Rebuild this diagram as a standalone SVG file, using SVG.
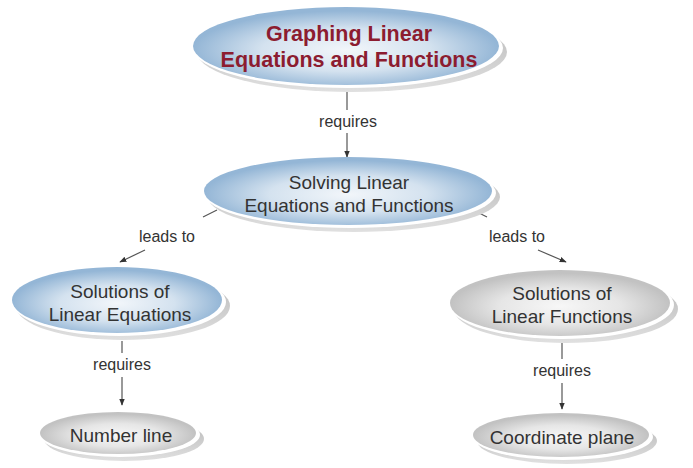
<svg xmlns="http://www.w3.org/2000/svg" width="693" height="468" viewBox="0 0 693 468">
<defs>
<radialGradient id="gBlue" cx="0.5" cy="0.55" r="0.5">
<stop offset="0" stop-color="#f2f6fa"/>
<stop offset="0.55" stop-color="#d4e2ef"/>
<stop offset="1" stop-color="#94b6d6"/>
</radialGradient>
<radialGradient id="gGray" cx="0.5" cy="0.55" r="0.5">
<stop offset="0" stop-color="#f7f7f7"/>
<stop offset="0.55" stop-color="#e6e6e6"/>
<stop offset="1" stop-color="#c2c2c2"/>
</radialGradient>
<linearGradient id="gShadow" x1="0" y1="0" x2="0" y2="1">
<stop offset="0" stop-color="#b5b5b5"/>
<stop offset="1" stop-color="#e0e0e0"/>
</linearGradient>
<marker id="arr" viewBox="0 0 10 10" refX="9" refY="5" markerWidth="7" markerHeight="7" orient="auto" markerUnits="userSpaceOnUse">
<path d="M0,1 L10,5 L0,9 z" fill="#333"/>
</marker>
</defs>
<style>
.sh{fill:url(#gShadow);}
.rim{fill:#fff;}
.blue{fill:url(#gBlue);}
.gray{fill:url(#gGray);}
.t{font-family:"Liberation Sans",Arial,sans-serif;fill:#333;text-anchor:middle;font-size:19px;}
.title{font-family:"Liberation Sans",Arial,sans-serif;font-weight:bold;fill:#8c1c30;text-anchor:middle;font-size:21.5px;}
.lbl{font-family:"Liberation Sans",Arial,sans-serif;fill:#333;text-anchor:middle;font-size:16px;}
.ln{stroke:#555;stroke-width:1.2;fill:none;}
</style>
<rect width="693" height="468" fill="#fff"/>
<g id="connectors">
<line class="ln" x1="347" y1="92" x2="347" y2="110"/>
<text class="lbl" x="348" y="127">requires</text>
<line class="ln" x1="347" y1="133" x2="347" y2="157" marker-end="url(#arr)"/>
<line class="ln" x1="217" y1="210" x2="203" y2="217"/>
<text class="lbl" x="167" y="242">leads to</text>
<line class="ln" x1="145" y1="250" x2="120" y2="262" marker-end="url(#arr)"/>
<line class="ln" x1="473" y1="210" x2="487" y2="217"/>
<text class="lbl" x="517" y="242">leads to</text>
<line class="ln" x1="538" y1="250" x2="566" y2="262" marker-end="url(#arr)"/>
<line class="ln" x1="122" y1="341" x2="122" y2="353"/>
<text class="lbl" x="122" y="370">requires</text>
<line class="ln" x1="122" y1="377" x2="122" y2="405" marker-end="url(#arr)"/>
<line class="ln" x1="562" y1="343" x2="562" y2="359"/>
<text class="lbl" x="562" y="376">requires</text>
<line class="ln" x1="562" y1="383" x2="562" y2="409" marker-end="url(#arr)"/>
</g>
<g id="n1">
<ellipse class="sh" cx="352" cy="52" rx="155" ry="40"/>
<ellipse class="rim" cx="348" cy="48" rx="155" ry="40"/>
<ellipse class="blue" cx="346" cy="46" rx="153" ry="39"/>
<text class="title" x="349" y="41">Graphing Linear</text>
<text class="title" x="349" y="67">Equations and Functions</text>
</g>
<g id="n2">
<ellipse class="sh" cx="354" cy="197" rx="146" ry="35"/>
<ellipse class="rim" cx="350" cy="193" rx="146" ry="35"/>
<ellipse class="blue" cx="348" cy="191" rx="144" ry="34"/>
<text class="t" x="349" y="189">Solving Linear</text>
<text class="t" x="349" y="212">Equations and Functions</text>
</g>
<g id="n3">
<ellipse class="sh" cx="123" cy="306" rx="107" ry="34"/>
<ellipse class="rim" cx="119" cy="302" rx="107" ry="34"/>
<ellipse class="blue" cx="117" cy="300" rx="105" ry="33"/>
<text class="t" x="120" y="298">Solutions of</text>
<text class="t" x="120" y="321">Linear Equations</text>
</g>
<g id="n4">
<ellipse class="sh" cx="566" cy="309" rx="112" ry="34"/>
<ellipse class="rim" cx="562" cy="305" rx="112" ry="34"/>
<ellipse class="gray" cx="560" cy="303" rx="110" ry="33"/>
<text class="t" x="562" y="300">Solutions of</text>
<text class="t" x="562" y="323">Linear Functions</text>
</g>
<g id="n5">
<ellipse class="sh" cx="124" cy="439" rx="80" ry="22"/>
<ellipse class="rim" cx="120" cy="435" rx="80" ry="22"/>
<ellipse class="gray" cx="118" cy="433" rx="78" ry="21"/>
<text class="t" x="121" y="442">Number line</text>
</g>
<g id="n6">
<ellipse class="sh" cx="567" cy="441" rx="90" ry="23"/>
<ellipse class="rim" cx="563" cy="437" rx="90" ry="23"/>
<ellipse class="gray" cx="561" cy="435" rx="88" ry="22"/>
<text class="t" x="562" y="444">Coordinate plane</text>
</g>
</svg>
